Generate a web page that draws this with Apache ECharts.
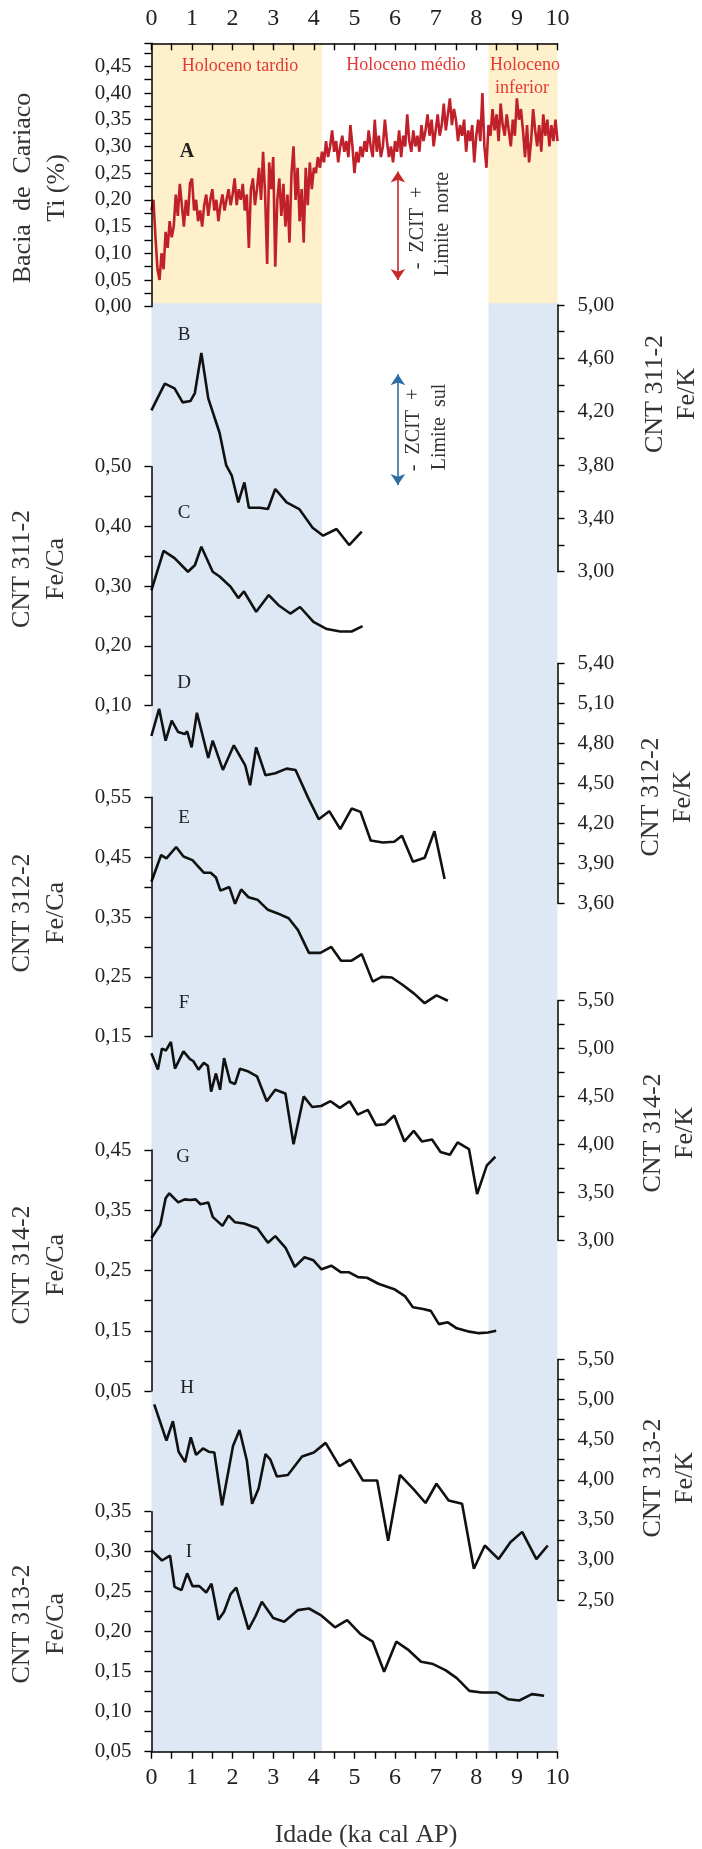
<!DOCTYPE html>
<html>
<head>
<meta charset="utf-8">
<script src="https://cdn.jsdelivr.net/npm/echarts@6/dist/echarts.min.js"></script>
<style>
  html, body { margin: 0; padding: 0; background: #fff; }
  #chartsDiv { width: 702px; height: 1849px; }
</style>
</head>
<body>
<div id="chartsDiv"></div>
<script>
// epoch limits (ka cal AP)
var eraRanges = [[0, 4.2], [8.3, 10]];

// A: Bacia de Cariaco Ti (%)
var tiAge = [
  0, 0.05, 0.1, 0.15, 0.2, 0.25, 0.3, 0.35, 0.4, 0.45,
  0.5, 0.55, 0.6, 0.65, 0.7, 0.75, 0.8, 0.85, 0.9, 0.95,
  1, 1.05, 1.1, 1.15, 1.2, 1.25, 1.3, 1.35, 1.4, 1.45,
  1.5, 1.55, 1.6, 1.65, 1.7, 1.75, 1.8, 1.85, 1.9, 1.95,
  2, 2.05, 2.1, 2.15, 2.2, 2.25, 2.3, 2.35, 2.4, 2.45,
  2.5, 2.55, 2.6, 2.65, 2.7, 2.75, 2.8, 2.85, 2.9, 2.95,
  3, 3.05, 3.1, 3.15, 3.2, 3.25, 3.3, 3.35, 3.4, 3.45,
  3.5, 3.55, 3.6, 3.65, 3.7, 3.75, 3.8, 3.85, 3.9, 3.95,
  4, 4.05, 4.1, 4.15, 4.2, 4.25, 4.3, 4.35, 4.4, 4.45,
  4.5, 4.55, 4.6, 4.65, 4.7, 4.75, 4.8, 4.85, 4.9, 4.95,
  5, 5.05, 5.1, 5.15, 5.2, 5.25, 5.3, 5.35, 5.4, 5.45,
  5.5, 5.55, 5.6, 5.65, 5.7, 5.75, 5.8, 5.85, 5.9, 5.95,
  6, 6.05, 6.1, 6.15, 6.2, 6.25, 6.3, 6.35, 6.4, 6.45,
  6.5, 6.55, 6.6, 6.65, 6.7, 6.75, 6.8, 6.85, 6.9, 6.95,
  7, 7.05, 7.1, 7.15, 7.2, 7.25, 7.3, 7.35, 7.4, 7.45,
  7.5, 7.55, 7.6, 7.65, 7.7, 7.75, 7.8, 7.85, 7.9, 7.95,
  8, 8.05, 8.1, 8.15, 8.2, 8.25, 8.3, 8.35, 8.4, 8.45,
  8.5, 8.55, 8.6, 8.65, 8.7, 8.75, 8.8, 8.85, 8.9, 8.95,
  9, 9.05, 9.1, 9.15, 9.2, 9.25, 9.3, 9.35, 9.4, 9.45,
  9.5, 9.55, 9.6, 9.65, 9.7, 9.75, 9.8, 9.85, 9.9, 9.95,
  10
];
var tiVal = [
  0.18, 0.20, 0.13, 0.07, 0.05, 0.10, 0.07, 0.14, 0.11, 0.16,
  0.13, 0.15, 0.21, 0.17, 0.23, 0.19, 0.15, 0.20, 0.17, 0.23,
  0.24, 0.18, 0.20, 0.16, 0.18, 0.15, 0.19, 0.21, 0.17, 0.20,
  0.22, 0.18, 0.20, 0.16, 0.19, 0.21, 0.18, 0.20, 0.22, 0.19,
  0.21, 0.24, 0.19, 0.22, 0.20, 0.23, 0.18, 0.21, 0.11, 0.22,
  0.24, 0.19, 0.22, 0.26, 0.20, 0.29, 0.21, 0.08, 0.27, 0.22,
  0.28, 0.075, 0.20, 0.24, 0.17, 0.23, 0.15, 0.21, 0.12, 0.25,
  0.30, 0.20, 0.26, 0.16, 0.22, 0.12, 0.26, 0.19, 0.27, 0.22,
  0.26, 0.25, 0.28, 0.26, 0.29, 0.27, 0.31, 0.28, 0.30, 0.33,
  0.29, 0.31, 0.27, 0.30, 0.32, 0.29, 0.31, 0.28, 0.34, 0.30,
  0.25, 0.29, 0.27, 0.30, 0.28, 0.31, 0.29, 0.33, 0.30, 0.28,
  0.35, 0.29, 0.32, 0.28, 0.30, 0.35, 0.31, 0.28, 0.30, 0.27,
  0.31, 0.29, 0.33, 0.28, 0.32, 0.30, 0.36, 0.31, 0.29, 0.33,
  0.30, 0.32, 0.29, 0.34, 0.31, 0.33, 0.36, 0.32, 0.35, 0.30,
  0.33, 0.36, 0.32, 0.34, 0.38, 0.33, 0.36, 0.39, 0.34, 0.37,
  0.35, 0.31, 0.34, 0.32, 0.35, 0.29, 0.33, 0.31, 0.34, 0.27,
  0.32, 0.35, 0.31, 0.40, 0.30, 0.26, 0.34, 0.32, 0.37, 0.33,
  0.36, 0.31, 0.38, 0.34, 0.32, 0.36, 0.33, 0.30, 0.35, 0.32,
  0.39, 0.35, 0.37, 0.33, 0.28, 0.34, 0.27, 0.31, 0.37, 0.33,
  0.30, 0.34, 0.29, 0.36, 0.32, 0.35, 0.30, 0.34, 0.31, 0.35,
  0.31
];

// B: CNT 311-2 Fe/K
var bAge = [0, 0.33, 0.57, 0.77, 0.96, 1.07, 1.23, 1.40, 1.68, 1.84, 1.98, 2.14, 2.29, 2.40, 2.67, 2.87, 3.05, 3.33, 3.64, 3.97, 4.23, 4.56, 4.87, 5.18];
var bVal = [4.21, 4.41, 4.375, 4.27, 4.28, 4.34, 4.64, 4.30, 4.04, 3.80, 3.72, 3.52, 3.67, 3.48, 3.48, 3.47, 3.62, 3.52, 3.47, 3.33, 3.27, 3.32, 3.20, 3.30];
// C: CNT 311-2 Fe/Ca
var cAge = [0, 0.30, 0.57, 0.90, 1.07, 1.23, 1.51, 1.68, 1.95, 2.14, 2.28, 2.58, 2.89, 3.13, 3.42, 3.66, 3.99, 4.32, 4.65, 4.93, 5.20];
var cVal = [0.293, 0.359, 0.347, 0.324, 0.335, 0.366, 0.324, 0.316, 0.299, 0.280, 0.291, 0.257, 0.285, 0.268, 0.254, 0.265, 0.240, 0.228, 0.224, 0.224, 0.233];
// D: CNT 312-2 Fe/K
var dAge = [0, 0.19, 0.35, 0.50, 0.66, 0.82, 0.88, 0.99, 1.12, 1.40, 1.51, 1.76, 2.03, 2.31, 2.43, 2.58, 2.81, 3.05, 3.33, 3.55, 3.86, 4.12, 4.38, 4.65, 4.93, 5.15, 5.40, 5.70, 5.98, 6.17, 6.44, 6.73, 6.97, 7.22];
var dVal = [4.855, 5.06, 4.82, 4.97, 4.885, 4.87, 4.89, 4.77, 5.03, 4.69, 4.82, 4.60, 4.785, 4.635, 4.485, 4.77, 4.56, 4.575, 4.61, 4.60, 4.39, 4.23, 4.29, 4.155, 4.31, 4.285, 4.07, 4.055, 4.06, 4.105, 3.91, 3.94, 4.14, 3.78];
// E: CNT 312-2 Fe/Ca
var eAge = [0, 0.24, 0.37, 0.61, 0.79, 1.01, 1.29, 1.46, 1.59, 1.70, 1.92, 2.06, 2.21, 2.39, 2.61, 2.87, 3.11, 3.38, 3.61, 3.88, 4.16, 4.43, 4.67, 4.93, 5.18, 5.45, 5.67, 5.92, 6.20, 6.47, 6.73, 7.02, 7.30];
var eVal = [0.409, 0.4535, 0.448, 0.467, 0.451, 0.445, 0.424, 0.424, 0.416, 0.394, 0.400, 0.372, 0.396, 0.383, 0.379, 0.362, 0.356, 0.348, 0.328, 0.290, 0.290, 0.300, 0.277, 0.277, 0.288, 0.242, 0.250, 0.249, 0.236, 0.222, 0.206, 0.219, 0.210];
// F: CNT 314-2 Fe/K
var fAge = [0, 0.16, 0.26, 0.36, 0.48, 0.58, 0.79, 0.95, 1.03, 1.16, 1.29, 1.39, 1.47, 1.59, 1.69, 1.79, 1.94, 2.06, 2.18, 2.39, 2.60, 2.84, 3.05, 3.30, 3.50, 3.75, 3.96, 4.18, 4.41, 4.64, 4.88, 5.08, 5.33, 5.53, 5.75, 5.98, 6.23, 6.46, 6.66, 6.91, 7.12, 7.35, 7.54, 7.82, 8.02, 8.26, 8.47];
var fVal = [4.95, 4.78, 5.00, 4.98, 5.07, 4.79, 4.97, 4.89, 4.87, 4.78, 4.85, 4.82, 4.55, 4.74, 4.57, 4.90, 4.65, 4.63, 4.79, 4.76, 4.71, 4.45, 4.57, 4.53, 4.00, 4.50, 4.39, 4.40, 4.45, 4.38, 4.45, 4.31, 4.36, 4.20, 4.21, 4.30, 4.03, 4.14, 4.03, 4.05, 3.92, 3.89, 4.02, 3.95, 3.48, 3.78, 3.87];
// G: CNT 314-2 Fe/Ca
var gAge = [0, 0.22, 0.35, 0.44, 0.66, 0.82, 0.96, 1.09, 1.21, 1.40, 1.51, 1.75, 1.90, 2.06, 2.28, 2.61, 2.87, 3.05, 3.31, 3.53, 3.77, 3.99, 4.19, 4.43, 4.67, 4.87, 5.09, 5.31, 5.59, 5.98, 6.25, 6.44, 6.69, 6.88, 7.08, 7.30, 7.52, 7.79, 8.07, 8.29, 8.49];
var gVal = [0.304, 0.326, 0.370, 0.378, 0.363, 0.368, 0.367, 0.368, 0.360, 0.363, 0.339, 0.324, 0.341, 0.330, 0.328, 0.320, 0.296, 0.307, 0.287, 0.256, 0.272, 0.267, 0.252, 0.258, 0.247, 0.247, 0.239, 0.238, 0.228, 0.219, 0.207, 0.189, 0.186, 0.183, 0.161, 0.164, 0.154, 0.149, 0.146, 0.147, 0.150];
// H: CNT 313-2 Fe/K
var hAge = [0.07, 0.37, 0.53, 0.67, 0.83, 0.97, 1.10, 1.27, 1.41, 1.55, 1.74, 2.01, 2.17, 2.35, 2.48, 2.64, 2.81, 2.93, 3.09, 3.36, 3.71, 4.00, 4.29, 4.63, 4.90, 5.21, 5.56, 5.83, 6.12, 6.46, 6.75, 7.02, 7.32, 7.65, 7.94, 8.21, 8.55, 8.84, 9.13, 9.48, 9.76];
var hVal = [4.94, 4.49, 4.73, 4.35, 4.22, 4.53, 4.31, 4.39, 4.35, 4.34, 3.68, 4.42, 4.62, 4.24, 3.70, 3.89, 4.32, 4.25, 4.04, 4.06, 4.29, 4.34, 4.46, 4.17, 4.25, 3.99, 3.99, 3.24, 4.06, 3.88, 3.71, 3.95, 3.74, 3.70, 2.89, 3.18, 3.01, 3.22, 3.35, 3.01, 3.18];
// I: CNT 313-2 Fe/Ca
var iAge = [0, 0.26, 0.46, 0.57, 0.74, 0.88, 1.01, 1.18, 1.35, 1.48, 1.65, 1.79, 1.95, 2.09, 2.39, 2.56, 2.72, 3.00, 3.27, 3.61, 3.88, 4.19, 4.52, 4.82, 5.15, 5.45, 5.73, 6.03, 6.31, 6.64, 6.91, 7.24, 7.52, 7.83, 8.13, 8.51, 8.79, 9.06, 9.37, 9.67];
var iVal = [0.302, 0.289, 0.295, 0.256, 0.252, 0.273, 0.257, 0.257, 0.249, 0.260, 0.215, 0.225, 0.247, 0.255, 0.203, 0.219, 0.2375, 0.217, 0.2125, 0.227, 0.229, 0.220, 0.2055, 0.2145, 0.197, 0.1875, 0.150, 0.1875, 0.178, 0.1625, 0.160, 0.152, 0.142, 0.126, 0.124, 0.124, 0.1155, 0.114, 0.122, 0.120];

// ZCIT arrows (age, top value, bottom value)
var arrowNorte = [6.07, 0.253, 0.05];
var arrowSul = [6.07, 4.48, 3.65];

var SERIF = "'Liberation Serif', 'Times New Roman', serif";
var INK = '#222';

var pairs = function (ages, vals) {
  return ages.map(function (a, i) { return [a, vals[i]]; });
};

// show only labels on the major steps, "0,45" style
var tickFmt = function (base, step) {
  return function (v) {
    var k = (v - base) / step;
    return Math.abs(k - Math.round(k)) < 1e-6 ? v.toFixed(2).replace('.', ',') : '';
  };
};

// grid boxes (top, height) in px
var L = 151.4, R = 144.5;
var boxes = [
  [43.3, 263.4],   // 0 A
  [303.3, 1448.4], // 1 bands
  [305, 266.7],    // 2 B
  [466.7, 238.8],  // 3 C
  [663.5, 239.5],  // 4 D
  [797.3, 239.4],  // 5 E
  [1000.7, 239.3], // 6 F
  [1150, 241],     // 7 G
  [1359.5, 240.5], // 8 H
  [1511.7, 240]    // 9 I
];

var axLine = { show: true, onZero: false, lineStyle: { color: '#000', width: 1.5 } };
var axTick = { show: true, length: 7, lineStyle: { color: '#000', width: 1.4 } };

var yAx = function (gi, pos, min, max, minor, base, step) {
  return {
    gridIndex: gi, type: 'value', position: pos, z: 10,
    min: min, max: max, interval: minor,
    axisLine: axLine,
    axisTick: axTick,
    axisLabel: {
      show: true, margin: 20, color: INK, fontFamily: SERIF, fontSize: 21,
      formatter: tickFmt(base, step)
    },
    splitLine: { show: false }
  };
};

var xFmt = function (v) { return Math.abs(v - Math.round(v)) < 1e-6 ? String(Math.round(v)) : ''; };

var xAxes = boxes.map(function (b, i) {
  return { gridIndex: i, type: 'value', min: 0, max: 10, interval: 0.5, show: false };
});
xAxes[0] = {
  gridIndex: 0, type: 'value', position: 'top', min: 0, max: 10, interval: 0.5, z: 10,
  axisLine: axLine,
  axisTick: { show: true, inside: true, length: 7, lineStyle: { color: '#000', width: 1.4 } },
  axisLabel: { margin: 13, color: INK, fontFamily: SERIF, fontSize: 24, formatter: xFmt },
  splitLine: { show: false }
};
xAxes[9] = {
  gridIndex: 9, type: 'value', position: 'bottom', min: 0, max: 10, interval: 0.5, z: 10,
  axisLine: axLine,
  axisTick: axTick,
  axisLabel: { margin: 14, color: INK, fontFamily: SERIF, fontSize: 24, formatter: xFmt },
  splitLine: { show: false }
};

var yAxes = [
  yAx(0, 'left', 0, 0.493, 0.025, 0, 0.05),
  { gridIndex: 1, type: 'value', min: 0, max: 1, show: false },
  yAx(2, 'right', 3, 5, 0.2, 3, 0.4),
  yAx(3, 'left', 0.10, 0.50, 0.05, 0.10, 0.1),
  yAx(4, 'right', 3.6, 5.4, 0.15, 3.6, 0.3),
  yAx(5, 'left', 0.15, 0.55, 0.05, 0.15, 0.1),
  yAx(6, 'right', 3.0, 5.5, 0.25, 3.0, 0.5),
  yAx(7, 'left', 0.05, 0.45, 0.05, 0.05, 0.1),
  yAx(8, 'right', 2.5, 5.5, 0.25, 2.5, 0.5),
  yAx(9, 'left', 0.05, 0.35, 0.025, 0.05, 0.05)
];

var eraArea = function (color) {
  return {
    silent: true,
    itemStyle: { color: color },
    data: eraRanges.map(function (r) { return [{ xAxis: r[0] }, { xAxis: r[1] }]; })
  };
};

var blackLine = function (gi, ages, vals) {
  return {
    type: 'line', xAxisIndex: gi, yAxisIndex: gi, z: 5,
    data: pairs(ages, vals), showSymbol: false, symbol: 'none',
    lineStyle: { color: '#111', width: 2.6 }, silent: true
  };
};

var arrowMark = function (a, color) {
  return {
    silent: true, symbol: ['arrow', 'arrow'], symbolSize: 11,
    label: { show: false },
    lineStyle: { color: color, width: 1.6, type: 'solid' },
    data: [[{ coord: [a[0], a[1]] }, { coord: [a[0], a[2]] }]]
  };
};

var txt = function (x, y, text, size, color, rot, extra) {
  var st = {
    text: text, x: 0, y: 0, fill: color,
    fontSize: size, fontFamily: SERIF,
    align: 'center', verticalAlign: 'middle'
  };
  if (extra) { for (var k in extra) st[k] = extra[k]; }
  return { type: 'text', x: x, y: y, rotation: rot || 0, z: 20, style: st };
};

var ROT = Math.PI / 2;
var RED = '#e53935';

var chart = echarts.init(document.getElementById('chartsDiv'));
var option = {
  animation: false,
  backgroundColor: '#fff',
  grid: boxes.map(function (b) {
    return { left: L, right: R, top: b[0], height: b[1], containLabel: false };
  }),
  xAxis: xAxes,
  yAxis: yAxes,
  series: [
    {
      type: 'line', xAxisIndex: 0, yAxisIndex: 0, z: 5,
      data: pairs(tiAge, tiVal), showSymbol: false, symbol: 'none',
      lineStyle: { color: '#c0202a', width: 2.6 }, silent: true,
      markArea: eraArea('#fdf0cb'),
      markLine: arrowMark(arrowNorte, '#c62828')
    },
    {
      type: 'line', xAxisIndex: 1, yAxisIndex: 1, z: 1,
      data: [[0, 0]], showSymbol: false, symbol: 'none',
      lineStyle: { width: 0 }, silent: true,
      markArea: eraArea('#dde8f4')
    },
    Object.assign(blackLine(2, bAge, bVal), { markLine: arrowMark(arrowSul, '#2f6ea5') }),
    blackLine(3, cAge, cVal),
    blackLine(4, dAge, dVal),
    blackLine(5, eAge, eVal),
    blackLine(6, fAge, fVal),
    blackLine(7, gAge, gVal),
    blackLine(8, hAge, hVal),
    blackLine(9, iAge, iVal)
  ],
  graphic: [
    // epochs
    txt(240, 66, 'Holoceno tardio', 18, RED),
    txt(406, 65, 'Holoceno médio', 18, RED),
    txt(525, 65, 'Holoceno', 18, RED),
    txt(522, 88, 'inferior', 18, RED),
    // panel letters
    txt(187, 152, 'A', 20, INK, 0, { fontWeight: 'bold' }),
    txt(184, 335, 'B', 19, INK),
    txt(184, 513, 'C', 19, INK),
    txt(184, 683, 'D', 19, INK),
    txt(184, 818, 'E', 19, INK),
    txt(184, 1003, 'F', 19, INK),
    txt(183, 1157, 'G', 19, INK),
    txt(187, 1388, 'H', 19, INK),
    txt(189, 1552, 'I', 19, INK),
    // ZCIT notes
    txt(418, 228, '-  ZCIT  +', 20, '#333', ROT),
    txt(443, 224, 'Limite  norte', 20, '#333', ROT),
    txt(414, 430, '-  ZCIT  +', 20, '#333', ROT),
    txt(440, 427, 'Limite  sul', 20, '#333', ROT),
    // left titles
    txt(40, 188, 'Bacia  de  Cariaco\nTi (%)', 26, '#333', ROT, { lineHeight: 34 }),
    txt(39, 569, 'CNT 311-2\nFe/Ca', 26, '#333', ROT, { lineHeight: 34 }),
    txt(39, 913, 'CNT 312-2\nFe/Ca', 26, '#333', ROT, { lineHeight: 34 }),
    txt(39, 1265, 'CNT 314-2\nFe/Ca', 26, '#333', ROT, { lineHeight: 34 }),
    txt(39, 1624, 'CNT 313-2\nFe/Ca', 26, '#333', ROT, { lineHeight: 34 }),
    // right titles
    txt(671, 394, 'CNT 311-2\nFe/K', 26, '#333', ROT, { lineHeight: 32 }),
    txt(667, 797, 'CNT 312-2\nFe/K', 26, '#333', ROT, { lineHeight: 32 }),
    txt(669, 1133, 'CNT 314-2\nFe/K', 26, '#333', ROT, { lineHeight: 32 }),
    txt(669, 1478, 'CNT 313-2\nFe/K', 26, '#333', ROT, { lineHeight: 32 }),
    // bottom title
    txt(366, 1835, 'Idade (ka cal AP)', 26, '#333')
  ]
};
chart.setOption(option);
</script>
</body>
</html>
